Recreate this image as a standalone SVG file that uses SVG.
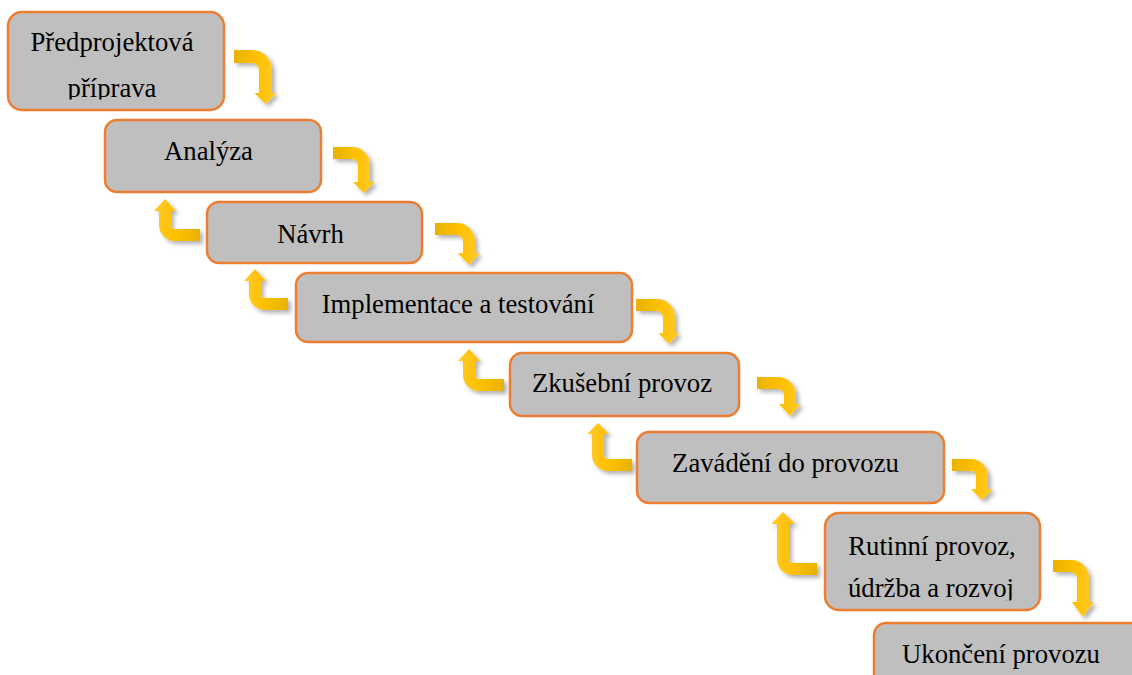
<svg xmlns="http://www.w3.org/2000/svg" width="1132" height="675" viewBox="0 0 1132 675">
<style>
.box{fill:#BFBFBF;stroke:#ED7D31;stroke-width:2.5}
.t{font-family:'Liberation Serif','DejaVu Serif',serif;font-size:26.7px;fill:#000;text-anchor:middle}
.dr{fill:url(#gDR);filter:url(#sh)}
.ul{fill:url(#gUL);filter:url(#sh)}
</style>
<defs>
<linearGradient id="gDR" x1="0" y1="0" x2="1" y2="0">
<stop offset="0" stop-color="#E9B200"/>
<stop offset="0.55" stop-color="#FFC000"/>
<stop offset="1" stop-color="#FFCA2C"/>
</linearGradient>
<linearGradient id="gUL" x1="1" y1="0" x2="0" y2="0">
<stop offset="0" stop-color="#E9B200"/>
<stop offset="0.55" stop-color="#FFC000"/>
<stop offset="1" stop-color="#FFCA2C"/>
</linearGradient>
<filter id="sh" x="-30%" y="-30%" width="170%" height="170%">
<feDropShadow dx="3" dy="3" stdDeviation="2" flood-color="#000" flood-opacity="0.3"/>
</filter>
<clipPath id="c1"><rect x="0" y="0" width="240" height="99.5"/></clipPath>
<clipPath id="c7"><rect x="820" y="500" width="230" height="100.5"/></clipPath>
</defs>

<g id="connectors">
<path class="dr" d="M234,50 H252 A20,20 0 0 1 272,70 V93 H276.5 L265.5,104 L254.5,93 H259 V70 A7,7 0 0 0 252,63 H234 Z"/>
<path class="dr" d="M333,147 H352 A18,18 0 0 1 370,165 V182 H375 L364,193 L353,182 H358 V165 A6,6 0 0 0 352,159 H333 Z"/>
<path class="dr" d="M435,223 H457 A18,18 0 0 1 475,241 V253 H480 L469,265 L458,253 H463 V241 A6,6 0 0 0 457,235 H435 Z"/>
<path class="dr" d="M636,299 H657 A18,18 0 0 1 675,317 V333 H679.5 L669,344 L658.5,333 H663 V317 A6,6 0 0 0 657,311 H636 Z"/>
<path class="dr" d="M757,377 H778 A18,18 0 0 1 796,395 V404 H801 L790,416 L779,404 H784 V395 A6,6 0 0 0 778,389 H757 Z"/>
<path class="dr" d="M952,459 H971 A17,17 0 0 1 988,476 V489 H993 L982,500 L971,489 H976 V476 A5,5 0 0 0 971,471 H952 Z"/>
<path class="dr" d="M1053,560 H1071 A18,18 0 0 1 1089,578 V602 H1094 L1083,617 L1072,602 H1077 V578 A6,6 0 0 0 1071,572 H1053 Z"/>
<path class="ul" d="M165,199 L176,211 H171 V225 A4,4 0 0 0 175,229 H200 V241 H175 A16,16 0 0 1 159,225 V211 H154 Z"/>
<path class="ul" d="M255,269 L266,281 H261 V294 A4,4 0 0 0 265,298 H288 V310 H265 A16,16 0 0 1 249,294 V281 H244 Z"/>
<path class="ul" d="M469,349 L480,361 H475 V375 A4,4 0 0 0 479,379 H504 V391 H479 A16,16 0 0 1 463,375 V361 H458 Z"/>
<path class="ul" d="M598,423 L609,434 H604 V455 A4,4 0 0 0 608,459 H632 V471 H608 A16,16 0 0 1 592,455 V434 H587 Z"/>
<path class="ul" d="M783,512 L795,524 H789 V559 A4,4 0 0 0 793,563 H817 V575 H793 A16,16 0 0 1 777,559 V524 H771 Z"/>
</g>

<g id="n1">
<rect class="box" x="8" y="12" width="216" height="98" rx="14"/>
<g clip-path="url(#c1)">
<text class="t" x="112" y="51">Předprojektová</text>
<text class="t" x="112" y="97">příprava</text>
</g>
</g>
<g id="n2">
<rect class="box" x="105" y="120" width="216" height="72" rx="12"/>
<text class="t" x="208.5" y="160">Analýza</text>
</g>
<g id="n3">
<rect class="box" x="207" y="202" width="215" height="61" rx="12"/>
<text class="t" x="310.5" y="243">Návrh</text>
</g>
<g id="n4">
<rect class="box" x="296" y="273" width="336" height="69" rx="12"/>
<text class="t" x="458" y="313">Implementace a testování</text>
</g>
<g id="n5">
<rect class="box" x="510" y="353" width="229" height="63" rx="12"/>
<text class="t" x="622" y="392">Zkušební provoz</text>
</g>
<g id="n6">
<rect class="box" x="637" y="432" width="307" height="71" rx="12"/>
<text class="t" x="785.5" y="472">Zavádění do provozu</text>
</g>
<g id="n7">
<rect class="box" x="825" y="513" width="215" height="97" rx="14"/>
<g clip-path="url(#c7)">
<text class="t" x="932" y="555">Rutinní provoz,</text>
<text class="t" x="931" y="597">údržba a rozvoj</text>
</g>
</g>
<g id="n8">
<rect class="box" x="874" y="623" width="270" height="70" rx="12"/>
<text class="t" x="1001" y="663">Ukončení provozu</text>
</g>
</svg>
